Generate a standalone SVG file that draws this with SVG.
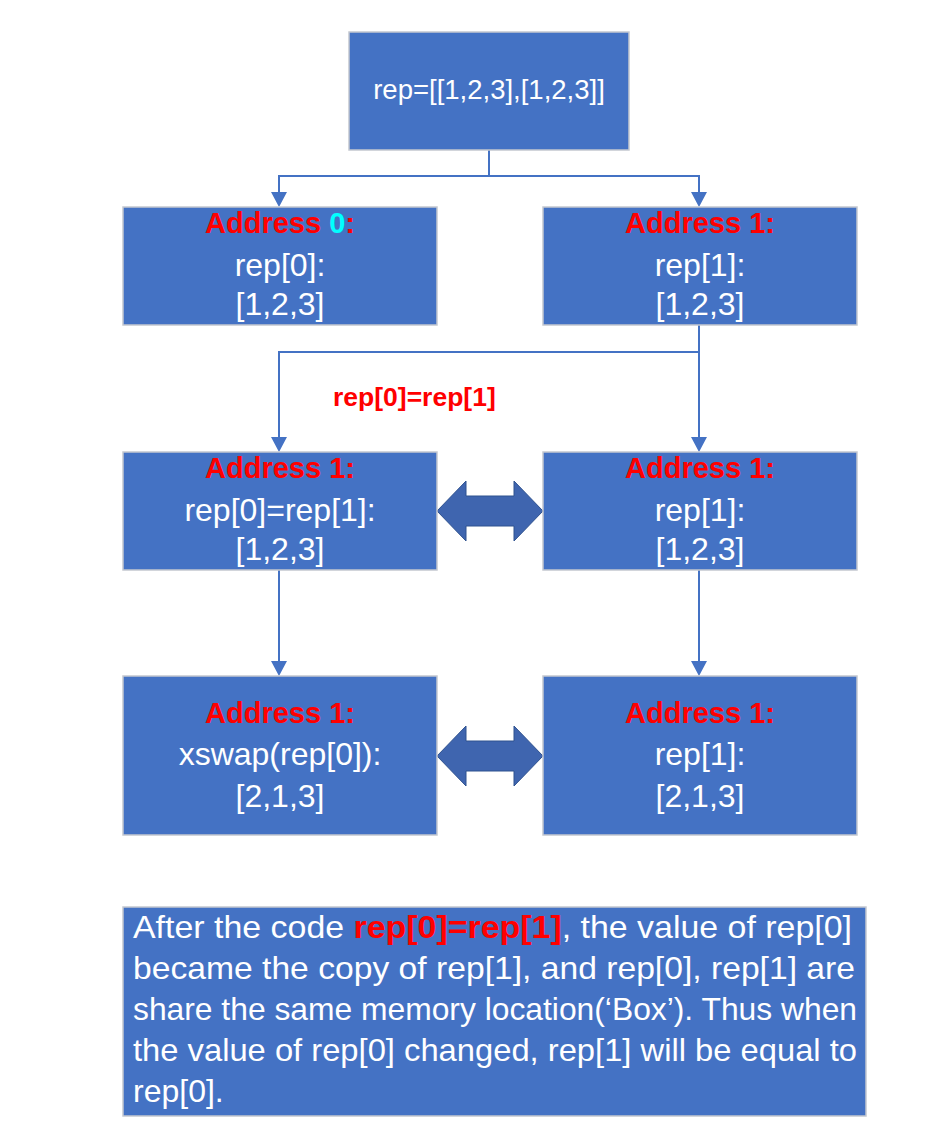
<svg xmlns="http://www.w3.org/2000/svg" width="949" height="1128" viewBox="0 0 949 1128">
<style>
.box{fill:#4472C4;stroke:#C4C8CF;stroke-width:1.5}
.t{font-family:"Liberation Sans",Arial,sans-serif;fill:#FFFFFF;text-anchor:middle;font-size:32px}
.a{font-family:"Liberation Sans",Arial,sans-serif;fill:#FF0000;text-anchor:middle;font-size:29px;font-weight:bold}
.cy{fill:#00FFFF}
.p{font-family:"Liberation Sans",Arial,sans-serif;fill:#FFFFFF;font-size:32px}
.rb{fill:#FF0000;font-weight:bold}
.c{fill:none;stroke:#4472C4;stroke-width:2}
.dbl{fill:#3F65AF;stroke:#2F528F;stroke-width:1}
</style>
<defs>
<marker id="ah" markerUnits="userSpaceOnUse" markerWidth="16" markerHeight="16" viewBox="0 0 16 16" refX="11" refY="8" orient="auto">
<path d="M0,0 L15,8 L0,16 z" fill="#4472C4"/>
</marker>
</defs>
<rect width="949" height="1128" fill="#FFFFFF"/>
<g id="connectors">
<path class="c" d="M489,150 V176 H279 V203" marker-end="url(#ah)"/>
<path class="c" d="M489,176 H699 V203" marker-end="url(#ah)"/>
<path class="c" d="M699,325 V352 H279 V448" marker-end="url(#ah)"/>
<path class="c" d="M699,352 V448" marker-end="url(#ah)"/>
<path class="c" d="M279,570 V672" marker-end="url(#ah)"/>
<path class="c" d="M699,570 V672" marker-end="url(#ah)"/>
<text x="333" y="406" font-family="Liberation Sans,Arial,sans-serif" font-size="26.5" font-weight="bold" fill="#FF0000">rep[0]=rep[1]</text>
<polygon class="dbl" points="437,511 466,481 466,496 514,496 514,481 543,511 514,541 514,526 466,526 466,541"/>
<polygon class="dbl" points="437,756 466,726 466,741 514,741 514,726 543,756 514,786 514,771 466,771 466,786"/>
</g>
<g id="top">
<rect class="box" x="349" y="32" width="280" height="118"/>
<text class="t" x="489" y="99" style="font-size:27.5px">rep=[[1,2,3],[1,2,3]]</text>
</g>
<g id="addr0">
<rect class="box" x="123" y="207" width="314" height="118"/>
<text class="a" x="280" y="233">Address <tspan class="cy">0</tspan>:</text>
<text class="t" x="280" y="276">rep[0]:</text>
<text class="t" x="280" y="315">[1,2,3]</text>
</g>
<g id="addr1">
<rect class="box" x="543" y="207" width="314" height="118"/>
<text class="a" x="700" y="233">Address 1:</text>
<text class="t" x="700" y="276">rep[1]:</text>
<text class="t" x="700" y="315">[1,2,3]</text>
</g>
<g id="assign-left">
<rect class="box" x="123" y="452" width="314" height="118"/>
<text class="a" x="280" y="478">Address 1:</text>
<text class="t" x="280" y="521">rep[0]=rep[1]:</text>
<text class="t" x="280" y="560">[1,2,3]</text>
</g>
<g id="assign-right">
<rect class="box" x="543" y="452" width="314" height="118"/>
<text class="a" x="700" y="478">Address 1:</text>
<text class="t" x="700" y="521">rep[1]:</text>
<text class="t" x="700" y="560">[1,2,3]</text>
</g>
<g id="swap-left">
<rect class="box" x="123" y="676" width="314" height="159"/>
<text class="a" x="280" y="723">Address 1:</text>
<text class="t" x="280" y="765">xswap(rep[0]):</text>
<text class="t" x="280" y="807">[2,1,3]</text>
</g>
<g id="swap-right">
<rect class="box" x="543" y="676" width="314" height="159"/>
<text class="a" x="700" y="723">Address 1:</text>
<text class="t" x="700" y="765">rep[1]:</text>
<text class="t" x="700" y="807">[2,1,3]</text>
</g>
<g id="note">
<rect class="box" x="123" y="907" width="743" height="209"/>
<text class="p" x="133" y="938" textLength="719" lengthAdjust="spacingAndGlyphs">After the code <tspan class="rb">rep[0]=rep[1]</tspan>, the value of rep[0]</text>
<text class="p" x="133" y="979" textLength="722" lengthAdjust="spacingAndGlyphs">became the copy of rep[1], and rep[0], rep[1] are</text>
<text class="p" x="133" y="1020" textLength="724" lengthAdjust="spacingAndGlyphs">share the same memory location(‘Box’). Thus when</text>
<text class="p" x="133" y="1061" textLength="724" lengthAdjust="spacingAndGlyphs">the value of rep[0] changed, rep[1] will be equal to</text>
<text class="p" x="133" y="1102">rep[0].</text>
</g>
</svg>
